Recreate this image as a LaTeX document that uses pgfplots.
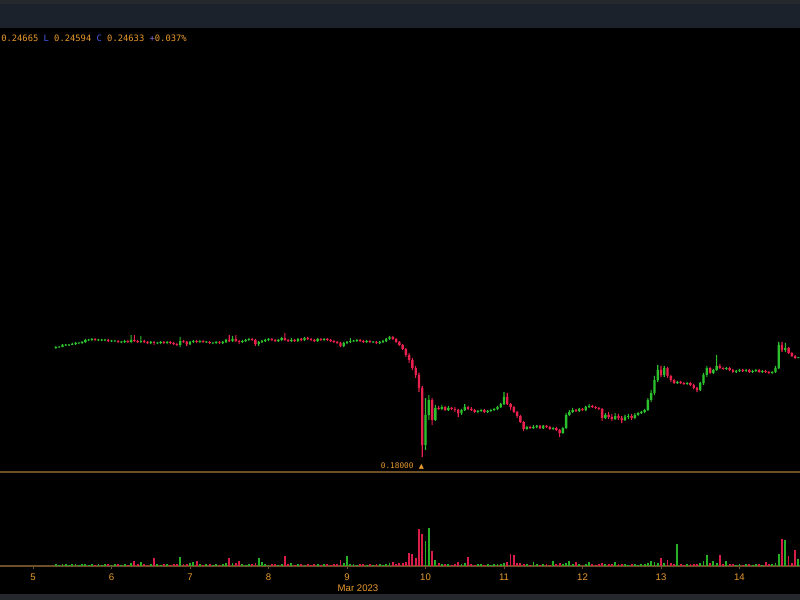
\documentclass[border=0pt]{standalone}
\usepackage{fontspec}
\usepackage{pgfplots}
\pgfplotsset{compat=1.18}
\usepackage{pgfplotstable}
\setmainfont{Liberation Sans}
\newfontfamily\monof{DejaVu Sans Mono}
\newfontfamily\symf{DejaVu Sans}
\definecolor{upc}{HTML}{2CC02C}
\definecolor{dnc}{HTML}{E8204E}
\definecolor{upv}{HTML}{26B026}
\definecolor{dnv}{HTML}{D81E48}
\definecolor{orng}{HTML}{E89A2C}
\definecolor{blu}{HTML}{4A5AE8}
\definecolor{purp}{HTML}{9070E0}
\definecolor{sepc}{HTML}{6E5028}
\definecolor{barA}{HTML}{25282D}
\definecolor{barB}{HTML}{1C222B}

\pgfplotstableread{
t o h l c v
127 0.2527 0.2540 0.2520 0.2533 1.5
128 0.2533 0.2540 0.2527 0.2533 1
129 0.2533 0.2553 0.2533 0.2547 2
130 0.2547 0.2553 0.2540 0.2547 1.5
131 0.2547 0.2553 0.2540 0.2547 1
132 0.2547 0.2560 0.2547 0.2553 1.5
133 0.2553 0.2567 0.2547 0.2560 2
134 0.2560 0.2567 0.2553 0.2560 1
135 0.2560 0.2573 0.2553 0.2567 1.5
136 0.2567 0.2587 0.2560 0.2580 2
137 0.2580 0.2587 0.2573 0.2580 1
138 0.2580 0.2593 0.2573 0.2587 1.5
139 0.2587 0.2593 0.2573 0.2580 1
140 0.2580 0.2587 0.2573 0.2580 1.5
141 0.2580 0.2587 0.2573 0.2580 1
142 0.2580 0.2587 0.2573 0.2580 2
143 0.2580 0.2587 0.2567 0.2573 1.5
144 0.2573 0.2580 0.2567 0.2573 1
145 0.2573 0.2580 0.2567 0.2573 1.5
146 0.2573 0.2580 0.2560 0.2567 2
147 0.2567 0.2573 0.2560 0.2567 1
148 0.2567 0.2580 0.2560 0.2573 1.5
149 0.2573 0.2580 0.2560 0.2567 1
150 0.2567 0.2613 0.2560 0.2580 3
151 0.2580 0.2613 0.2567 0.2573 5
152 0.2573 0.2580 0.2560 0.2567 1.5
153 0.2567 0.2607 0.2560 0.2573 4
154 0.2573 0.2580 0.2560 0.2567 1.5
155 0.2567 0.2573 0.2553 0.2560 1
156 0.2560 0.2573 0.2553 0.2567 2
157 0.2567 0.2573 0.2547 0.2560 8
158 0.2560 0.2567 0.2553 0.2560 1.5
159 0.2560 0.2573 0.2553 0.2567 1
160 0.2567 0.2573 0.2553 0.2560 1.5
161 0.2560 0.2573 0.2553 0.2567 2
162 0.2567 0.2573 0.2553 0.2560 1
163 0.2560 0.2567 0.2547 0.2553 1.5
164 0.2553 0.2560 0.2540 0.2547 2
165 0.2547 0.2600 0.2533 0.2573 9
166 0.2573 0.2580 0.2560 0.2567 2
167 0.2567 0.2573 0.2540 0.2553 1.5
168 0.2553 0.2573 0.2547 0.2567 2.5
169 0.2567 0.2580 0.2560 0.2573 4
170 0.2573 0.2580 0.2560 0.2567 5
171 0.2567 0.2580 0.2560 0.2573 1.5
172 0.2573 0.2580 0.2560 0.2567 1
173 0.2567 0.2573 0.2560 0.2567 1.5
174 0.2567 0.2573 0.2553 0.2560 2
175 0.2560 0.2567 0.2553 0.2560 1
176 0.2560 0.2573 0.2553 0.2567 1.5
177 0.2567 0.2573 0.2553 0.2560 1
178 0.2560 0.2573 0.2553 0.2567 2
179 0.2567 0.2587 0.2560 0.2580 2.5
180 0.2580 0.2613 0.2567 0.2573 8
181 0.2573 0.2607 0.2567 0.2587 3
182 0.2587 0.2613 0.2567 0.2573 2.5
183 0.2573 0.2580 0.2553 0.2567 5
184 0.2567 0.2580 0.2560 0.2573 1.5
185 0.2573 0.2587 0.2567 0.2580 1
186 0.2580 0.2593 0.2573 0.2587 2
187 0.2587 0.2593 0.2573 0.2580 1.5
188 0.2580 0.2587 0.2540 0.2553 3
189 0.2553 0.2573 0.2540 0.2567 8
190 0.2567 0.2580 0.2560 0.2573 4
191 0.2573 0.2587 0.2567 0.2580 1.5
192 0.2580 0.2593 0.2573 0.2587 1
193 0.2587 0.2593 0.2573 0.2580 1.5
194 0.2580 0.2587 0.2567 0.2573 2
195 0.2573 0.2587 0.2567 0.2580 1
196 0.2580 0.2600 0.2573 0.2593 2
197 0.2593 0.2627 0.2573 0.2580 10
198 0.2580 0.2587 0.2567 0.2573 1.5
199 0.2573 0.2593 0.2567 0.2580 3
200 0.2580 0.2587 0.2567 0.2573 1
201 0.2573 0.2593 0.2567 0.2587 1.5
202 0.2587 0.2593 0.2573 0.2580 2
203 0.2580 0.2600 0.2573 0.2593 1
204 0.2593 0.2600 0.2580 0.2587 1.5
205 0.2587 0.2593 0.2573 0.2580 1
206 0.2580 0.2587 0.2567 0.2573 2
207 0.2573 0.2593 0.2567 0.2587 1.5
208 0.2587 0.2593 0.2573 0.2580 1
209 0.2580 0.2593 0.2573 0.2587 1.5
210 0.2587 0.2593 0.2573 0.2580 2
211 0.2580 0.2587 0.2567 0.2573 1
212 0.2573 0.2580 0.2560 0.2567 1.5
213 0.2567 0.2573 0.2553 0.2560 2
214 0.2560 0.2567 0.2533 0.2540 6
215 0.2540 0.2567 0.2533 0.2560 3
216 0.2560 0.2573 0.2553 0.2567 10
217 0.2567 0.2593 0.2560 0.2573 2
218 0.2573 0.2580 0.2567 0.2573 1.5
219 0.2573 0.2587 0.2567 0.2580 1
220 0.2580 0.2587 0.2567 0.2573 1.5
221 0.2573 0.2580 0.2560 0.2567 2
222 0.2567 0.2580 0.2560 0.2573 1
223 0.2573 0.2580 0.2560 0.2567 1.5
224 0.2567 0.2573 0.2560 0.2567 1
225 0.2567 0.2573 0.2553 0.2560 2
226 0.2560 0.2573 0.2553 0.2567 1.5
227 0.2567 0.2580 0.2560 0.2573 1
228 0.2573 0.2593 0.2567 0.2587 2
229 0.2587 0.2607 0.2580 0.2600 2.5
230 0.2600 0.2607 0.2580 0.2587 4
231 0.2587 0.2593 0.2560 0.2567 2
232 0.2567 0.2573 0.2540 0.2547 2.5
233 0.2547 0.2553 0.2513 0.2520 3
234 0.2520 0.2527 0.2467 0.2480 4
235 0.2480 0.2493 0.2427 0.2447 13
236 0.2447 0.2460 0.2380 0.2393 12
237 0.2393 0.2407 0.2327 0.2347 8
238 0.2347 0.2360 0.2233 0.2260 37
239 0.2260 0.2273 0.1800 0.1880 32
240 0.1880 0.2193 0.1847 0.2080 25
241 0.2080 0.2213 0.2047 0.2180 38
242 0.2180 0.2193 0.2013 0.2047 15
243 0.2047 0.2147 0.2040 0.2127 6
244 0.2127 0.2140 0.2113 0.2120 3
245 0.2120 0.2147 0.2113 0.2133 2
246 0.2133 0.2140 0.2107 0.2113 1.5
247 0.2113 0.2140 0.2107 0.2127 2
248 0.2127 0.2133 0.2113 0.2120 1
249 0.2120 0.2133 0.2100 0.2113 1.5
250 0.2113 0.2120 0.2067 0.2093 4
251 0.2093 0.2120 0.2080 0.2113 2
252 0.2113 0.2153 0.2107 0.2133 2.5
253 0.2133 0.2140 0.2113 0.2120 9
254 0.2120 0.2133 0.2107 0.2113 1.5
255 0.2113 0.2120 0.2093 0.2100 1
256 0.2100 0.2113 0.2093 0.2107 1.5
257 0.2107 0.2120 0.2100 0.2113 2
258 0.2113 0.2120 0.2093 0.2100 1
259 0.2100 0.2113 0.2093 0.2107 1.5
260 0.2107 0.2120 0.2100 0.2113 1
261 0.2113 0.2127 0.2107 0.2120 2
262 0.2120 0.2140 0.2113 0.2133 1.5
263 0.2133 0.2160 0.2127 0.2153 2
264 0.2153 0.2233 0.2147 0.2200 3
265 0.2200 0.2227 0.2147 0.2153 4
266 0.2153 0.2160 0.2113 0.2133 12
267 0.2133 0.2140 0.2093 0.2100 11
268 0.2100 0.2107 0.2060 0.2073 3
269 0.2073 0.2080 0.2027 0.2033 2.5
270 0.2033 0.2040 0.1973 0.1987 2
271 0.1987 0.2007 0.1980 0.2000 1.5
272 0.2000 0.2007 0.1987 0.1993 1
273 0.1993 0.2013 0.1987 0.2000 4
274 0.2000 0.2013 0.1993 0.2007 1.5
275 0.2007 0.2013 0.1987 0.1993 1
276 0.1993 0.2013 0.1987 0.2007 2
277 0.2007 0.2013 0.1993 0.2000 1.5
278 0.2000 0.2007 0.1980 0.1987 1
279 0.1987 0.2000 0.1980 0.1993 5
280 0.1993 0.2000 0.1973 0.1980 1.5
281 0.1980 0.1987 0.1933 0.1960 3
282 0.1960 0.2000 0.1953 0.1993 2
283 0.1993 0.2093 0.1987 0.2080 3
284 0.2080 0.2113 0.2073 0.2100 5
285 0.2100 0.2127 0.2093 0.2113 2
286 0.2113 0.2120 0.2100 0.2107 4
287 0.2107 0.2127 0.2100 0.2120 1.5
288 0.2120 0.2127 0.2107 0.2113 1
289 0.2113 0.2140 0.2107 0.2133 2
290 0.2133 0.2153 0.2127 0.2140 4
291 0.2140 0.2147 0.2127 0.2133 1.5
292 0.2133 0.2140 0.2120 0.2127 1
293 0.2127 0.2133 0.2113 0.2120 1.5
294 0.2120 0.2127 0.2040 0.2060 3
295 0.2060 0.2093 0.2053 0.2080 2
296 0.2080 0.2100 0.2053 0.2067 1.5
297 0.2067 0.2087 0.2040 0.2053 2
298 0.2053 0.2093 0.2047 0.2073 4
299 0.2073 0.2087 0.2047 0.2060 1.5
300 0.2060 0.2073 0.2027 0.2047 2
301 0.2047 0.2080 0.2040 0.2067 1.5
302 0.2067 0.2087 0.2053 0.2073 1
303 0.2073 0.2087 0.2047 0.2060 1.5
304 0.2060 0.2093 0.2053 0.2080 2
305 0.2080 0.2100 0.2073 0.2093 1
306 0.2093 0.2107 0.2087 0.2100 1.5
307 0.2100 0.2120 0.2093 0.2113 2
308 0.2113 0.2193 0.2107 0.2180 3
309 0.2180 0.2247 0.2167 0.2227 5
310 0.2227 0.2340 0.2213 0.2313 4
311 0.2313 0.2413 0.2300 0.2380 3
312 0.2380 0.2407 0.2333 0.2347 8
313 0.2347 0.2407 0.2333 0.2393 3
314 0.2393 0.2400 0.2327 0.2340 6
315 0.2340 0.2347 0.2300 0.2313 2.5
316 0.2313 0.2320 0.2287 0.2293 2
317 0.2293 0.2307 0.2287 0.2300 22
318 0.2300 0.2307 0.2287 0.2293 1.5
319 0.2293 0.2300 0.2280 0.2287 1
320 0.2287 0.2300 0.2280 0.2293 1.5
321 0.2293 0.2300 0.2273 0.2280 2
322 0.2280 0.2287 0.2253 0.2260 1.5
323 0.2260 0.2267 0.2233 0.2247 2
324 0.2247 0.2300 0.2240 0.2293 3
325 0.2293 0.2360 0.2280 0.2347 5
326 0.2347 0.2407 0.2333 0.2393 11
327 0.2393 0.2400 0.2353 0.2360 3
328 0.2360 0.2387 0.2353 0.2380 5
329 0.2380 0.2480 0.2373 0.2407 3
330 0.2407 0.2420 0.2387 0.2393 11
331 0.2393 0.2400 0.2380 0.2387 2
332 0.2387 0.2400 0.2380 0.2393 5
333 0.2393 0.2400 0.2373 0.2380 1.5
334 0.2380 0.2387 0.2360 0.2367 2
335 0.2367 0.2380 0.2360 0.2373 1
336 0.2373 0.2387 0.2367 0.2380 1.5
337 0.2380 0.2387 0.2367 0.2373 1
338 0.2373 0.2387 0.2367 0.2380 2
339 0.2380 0.2387 0.2360 0.2367 1.5
340 0.2367 0.2380 0.2360 0.2373 1
341 0.2373 0.2387 0.2367 0.2380 1.5
342 0.2380 0.2387 0.2360 0.2367 2
343 0.2367 0.2380 0.2360 0.2373 1
344 0.2373 0.2380 0.2360 0.2367 4
345 0.2367 0.2373 0.2353 0.2360 1.5
346 0.2360 0.2373 0.2353 0.2367 2
347 0.2367 0.2407 0.2360 0.2393 3
348 0.2393 0.2567 0.2387 0.2547 12
349 0.2547 0.2567 0.2500 0.2513 27
350 0.2513 0.2560 0.2500 0.2527 26
351 0.2527 0.2533 0.2487 0.2493 10
352 0.2493 0.2500 0.2467 0.2473 3
353 0.2473 0.2480 0.2453 0.2460 16
354 0.2460 0.24665 0.24594 0.24633 7
}\candles

\pgfplotsset{pricepanel/.style={at={(0pt,96pt)}, anchor=south west, scale only axis,
  width=600pt, height=333pt,
  xmin=109.9, xmax=354.5, ymin=0.1700, ymax=0.4660,
  hide axis, clip=true, ybar stacked}}

\begin{document}
\begin{tikzpicture}[x=1pt,y=1pt]
\useasboundingbox (0,0) rectangle (600,450);
\fill[black] (0,0) rectangle (600,450);
\fill[barB] (0,429) rectangle (600,450);
\fill[barA] (0,447) rectangle (600,450);
\fill[barA] (0,0) rectangle (600,4.5);

% wicks: invisible base to the low, then the high-low range
\begin{axis}[pricepanel, bar width=0.8pt]
\addplot[draw=none, fill=none] table[x=t, y=l] {\candles};
\addplot[draw=none, fill=upc] table[x=t, y expr={(\thisrow{h}-\thisrow{l})*(\thisrow{c}>=\thisrow{o})}] {\candles};
\addplot[draw=none, fill=dnc] table[x=t, y expr={(\thisrow{h}-\thisrow{l})*(\thisrow{c}<\thisrow{o})}] {\candles};
\end{axis}

% bodies: invisible base to the lower of open and close, then the body
\begin{axis}[pricepanel, bar width=1.8pt]
\addplot[draw=none, fill=none] table[x=t, y expr={(\thisrow{o}+\thisrow{c})/2-max(abs(\thisrow{c}-\thisrow{o}),0.0005)/2}] {\candles};
\addplot[draw=none, fill=upc] table[x=t, y expr={max(abs(\thisrow{c}-\thisrow{o}),0.0005)*(\thisrow{c}>=\thisrow{o})}] {\candles};
\addplot[draw=none, fill=dnc] table[x=t, y expr={max(abs(\thisrow{c}-\thisrow{o}),0.0005)*(\thisrow{c}<\thisrow{o})}] {\candles};
\node[anchor=east, inner sep=0pt, text=orng, font=\monof\fontsize{5.8}{7}\selectfont]
  at (axis cs:239.6,0.1800) [yshift=-6.75pt] {0.18000\hspace{4pt}{\symf\fontsize{5}{6}\selectfont ▲}};
\end{axis}

% volume panel
\begin{axis}[at={(0pt,25.5pt)}, anchor=south west, scale only axis,
  width=600pt, height=70.5pt,
  xmin=109.9, xmax=354.5, ymin=0, ymax=94,
  axis y line=none, axis x line*=bottom,
  axis line style={draw=sepc, line width=0.8pt, -},
  xtick={120,144,168,192,216,240,264,288,312,336},
  xticklabels={5,6,7,8,9,10,11,12,13,14},
  tick align=outside, major tick length=2pt,
  tick style={draw=sepc, line width=0.6pt},
  xticklabel style={text=orng, font=\fontsize{7.2}{8}\selectfont, anchor=base, yshift=-8.6pt},
  clip=true]
\addplot[ycomb, mark=none, line width=1.4pt, draw=upv,
  restrict expr to domain={\thisrow{c}-\thisrow{o}}{0:1}]
  table[x=t, y=v] {\candles};
\addplot[ycomb, mark=none, line width=1.4pt, draw=dnv,
  restrict expr to domain={\thisrow{c}-\thisrow{o}}{-1:-0.00001}]
  table[x=t, y=v] {\candles};
\end{axis}

\draw[sepc, line width=0.8pt] (0,96) -- (600,96);

\node[anchor=base west, inner sep=0pt, text=orng, font=\monof\fontsize{6.6}{8}\selectfont]
  at (0.75,418.9) {0.24665 {\color{blu}L} 0.24594 {\color{blu}C} 0.24633 {\color{purp}+}0.037\%};
\node[anchor=center, inner sep=0pt, text=orng, font=\fontsize{7.2}{8}\selectfont]
  at (268.5,9) {Mar 2023};
\end{tikzpicture}
\end{document}
